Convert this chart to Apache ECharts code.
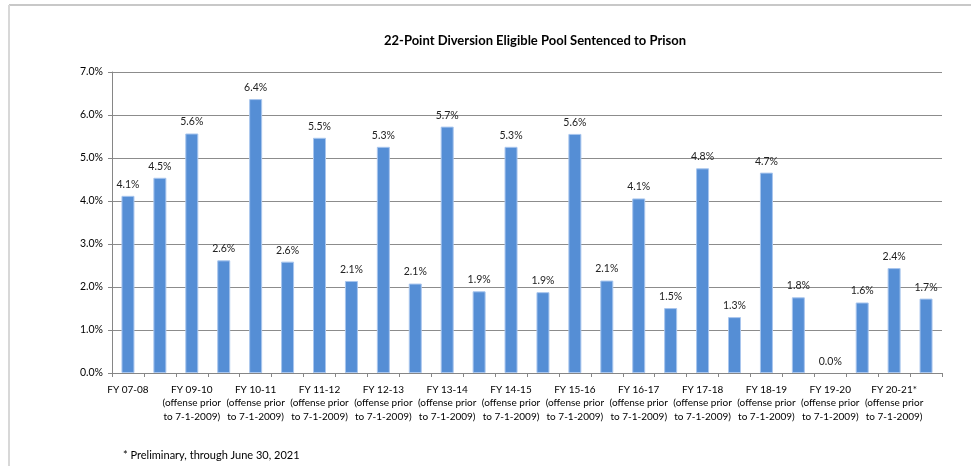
<!DOCTYPE html>
<html>
<head>
<meta charset="utf-8">
<script src="https://cdn.jsdelivr.net/npm/echarts@6/dist/echarts.min.js"></script>
<style>
  html, body { margin: 0; padding: 0; background: #fff; }
  #main { width: 971px; height: 466px; }
</style>
</head>
<body>
<div id="main"></div>
<script>
  // 26 bars, only every other category is labeled in the original
  const prior = "\n(offense prior\nto 7-1-2009)";
  const categories = [
    "FY 07-08", "",
    "FY 09-10" + prior, "",
    "FY 10-11" + prior, "",
    "FY 11-12" + prior, "",
    "FY 12-13" + prior, "",
    "FY 13-14" + prior, "",
    "FY 14-15" + prior, "",
    "FY 15-16" + prior, "",
    "FY 16-17" + prior, "",
    "FY 17-18" + prior, "",
    "FY 18-19" + prior, "",
    "FY 19-20" + prior, "",
    "FY 20-21*" + prior, ""
  ];
  const pctValues = [
    4.12, 4.54, 5.57, 2.62, 6.37, 2.59, 5.47, 2.14, 5.26, 2.08,
    5.73, 1.90, 5.26, 1.88, 5.56, 2.15, 4.06, 1.51, 4.76, 1.30,
    4.66, 1.76, 0.0, 1.64, 2.44, 1.73
  ];
  const yTicks = { min: 0, max: 7, interval: 1 };

  const font = "Lato, 'Noto Sans', sans-serif";
  const chart = echarts.init(document.getElementById("main"), null, { renderer: "canvas" });

  chart.setOption({
    animation: false,
    textStyle: { fontFamily: font },
    title: {
      text: "22-Point Diversion Eligible Pool Sentenced to Prison",
      left: 530,
      top: 29,
      textAlign: "center",
      textStyle: { fontSize: 13, fontWeight: "bold", color: "#000", fontFamily: font }
    },
    graphic: [
      { type: "line", shape: { x1: 9, y1: 5, x2: 971, y2: 5 }, style: { stroke: "#c8c8c8", lineWidth: 2 } },
      { type: "line", shape: { x1: 9, y1: 5, x2: 9, y2: 466 }, style: { stroke: "#d8d8d8", lineWidth: 2 } },
      {
        type: "text", left: 123, top: 450,
        style: { text: "* Preliminary, through June 30, 2021", fontSize: 11, fill: "#000", fontFamily: font }
      }
    ],
    grid: { left: 112, right: 29, top: 72, bottom: 93 },
    xAxis: {
      type: "category",
      data: categories,
      boundaryGap: true,
      axisLine: { lineStyle: { color: "#868686", width: 1 } },
      axisTick: { show: true, interval: 0, length: 4, lineStyle: { color: "#868686" } },
      axisLabel: {
        interval: 0,
        color: "#000",
        fontSize: 10,
        lineHeight: 13.5,
        margin: 10,
        fontFamily: font
      }
    },
    yAxis: {
      type: "value",
      min: yTicks.min,
      max: yTicks.max,
      interval: yTicks.interval,
      axisLine: { show: true, lineStyle: { color: "#868686" } },
      axisTick: { show: true, length: 4, lineStyle: { color: "#868686" } },
      splitLine: { lineStyle: { color: "#8c8c8c", width: 1 } },
      axisLabel: {
        color: "#000",
        fontSize: 10.5,
        margin: 9,
        fontFamily: font,
        formatter: (v) => v.toFixed(1) + "%"
      }
    },
    series: [{
      type: "bar",
      // zero-height bar gets no outline, as in the original
      data: pctValues.map((v) => (v === 0 ? { value: v, itemStyle: { borderWidth: 0 } } : v)),
      barWidth: 13,
      itemStyle: { color: "#558ED5", borderColor: "#a9c6ee", borderWidth: 1 },
      label: {
        show: true,
        position: "top",
        distance: 6,
        color: "#222",
        fontSize: 10.5,
        fontFamily: font,
        formatter: (p) => p.value.toFixed(1) + "%"
      }
    }]
  });
</script>
</body>
</html>
